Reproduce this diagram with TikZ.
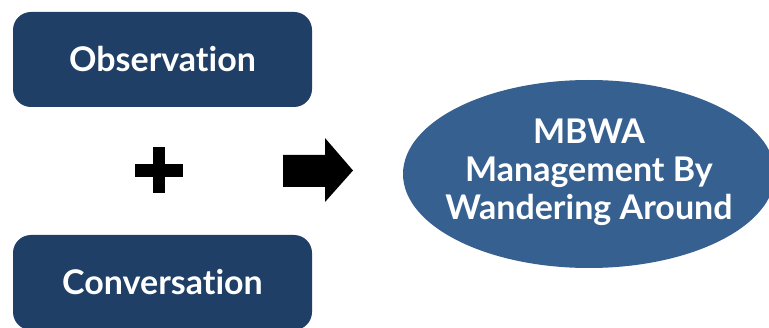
\documentclass[tikz,border=0pt]{standalone}
\usepackage{fontspec}
\setmainfont{Lato}[Ligatures=NoCommon]
\usepackage{xcolor}
\usepackage{tikz}
\usetikzlibrary{shapes.geometric}
\definecolor{boxblue}{HTML}{1F3F66}
\definecolor{ovalblue}{HTML}{36608F}

\begin{document}
\begin{tikzpicture}[x=1pt,y=1pt,
  box/.style={fill=boxblue, rounded corners=18pt, minimum width=299pt, minimum height=95pt, text=white, font=\fontsize{34}{40}\selectfont\bfseries},
  oval/.style={ellipse, fill=ovalblue, minimum width=372pt, minimum height=188pt, inner sep=0pt},
  ovaltext/.style={text=white, align=center, font=\fontsize{34}{38}\selectfont\bfseries}]
\useasboundingbox (0,0) rectangle (769,327);
\node[box] (obs) at (162.5,267.5) {Observation};
\node[box] (conv) at (162.5,44.5) {Conversation};
\fill (153,134) rectangle (165,180);
\fill (135,150) rectangle (183,163);
\fill (283,140) -- (325,140) -- (325,125) -- (353,156.5) -- (325,189) -- (325,172) -- (283,172) -- cycle;
\node[oval] (mbwa) at (589,153) {};
\node[ovaltext] (mbwatext) at ([yshift=2pt]mbwa.center) {MBWA\\Management By\\Wandering Around};
\end{tikzpicture}
\end{document}
